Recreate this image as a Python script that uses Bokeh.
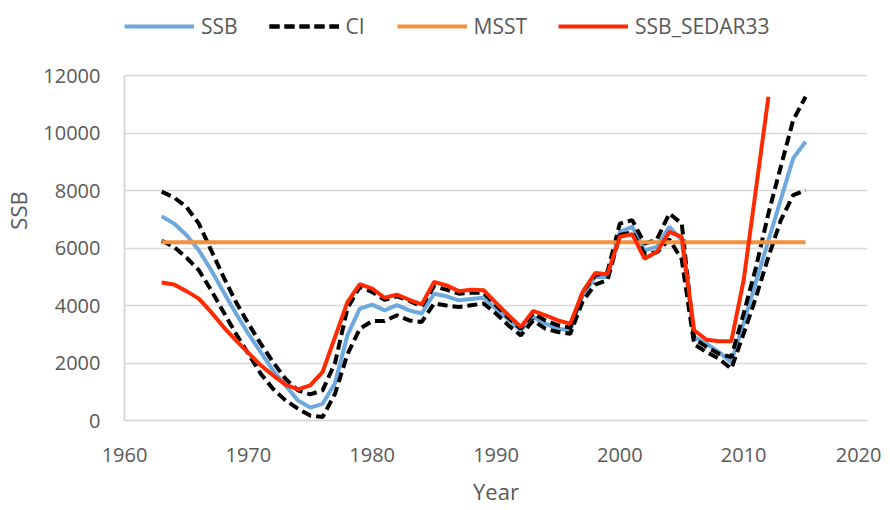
from bokeh.plotting import figure
from bokeh.models import Legend, LegendItem, Range1d, FixedTicker
from bokeh.embed import file_html
from bokeh.resources import INLINE

years = list(range(1963, 2016))
years_sedar = list(range(1963, 2013))

ssb = [7100, 6850, 6450, 5920, 5230, 4470, 3720, 3020, 2380, 1740,
       1220, 700, 450, 580, 1300, 2960, 3890, 4030, 3830, 4010,
       3830, 3720, 4410, 4320, 4180, 4230, 4270, 3890, 3510, 3140,
       3600, 3370, 3190, 3140, 4350, 4990, 4990, 6560, 6740, 5920,
       6040, 6740, 6270, 2900, 2670, 2380, 2030, 3400, 4830, 6260,
       7690, 9120, 9700]

ci_upper = [7960, 7760, 7430, 6850, 5920, 4990, 4120, 3370, 2670, 2030,
            1450, 1050, 910, 1050, 2000, 3900, 4650, 4470, 4200, 4320,
            4160, 3970, 4670, 4550, 4410, 4440, 4440, 4010, 3580, 3190,
            3720, 3480, 3310, 3230, 4470, 5050, 5170, 6850, 6970, 6150,
            6300, 7200, 6850, 2850, 2560, 2320, 2210, 3720, 5340, 7200,
            8830, 10450, 11260]

ci_lower = [6250, 6040, 5670, 5230, 4530, 3770, 3020, 2320, 1630, 1100,
            700, 410, 170, 120, 930, 2300, 3190, 3460, 3460, 3660,
            3480, 3430, 4070, 4000, 3950, 4010, 4070, 3720, 3310, 2960,
            3480, 3190, 3080, 3020, 4150, 4730, 4880, 6450, 6550, 5800,
            5850, 6300, 5600, 2650, 2380, 2150, 1800, 3020, 4300, 5690,
            6970, 7840, 8010]

msst_level = 6200
msst = [msst_level] * len(years)

ssb_sedar33 = [4800, 4730, 4500, 4240, 3770, 3250, 2790, 2350, 1920, 1570,
               1250, 1080, 1220, 1690, 2900, 4120, 4740, 4590, 4270, 4380,
               4200, 4040, 4820, 4700, 4500, 4550, 4530, 4090, 3660, 3250,
               3810, 3660, 3480, 3370, 4470, 5130, 5090, 6390, 6480, 5630,
               5870, 6560, 6390, 3140, 2810, 2760, 2760, 4880, 8070, 11260]

x_ticks = [1960, 1970, 1980, 1990, 2000, 2010, 2020]
y_ticks = [0, 2000, 4000, 6000, 8000, 10000, 12000]

FONT = "Open Sans"
TXT = "#595959"

# frame extends above 12000 so the legend can sit in the top strip
p = figure(frame_width=743, frame_height=420, output_backend="svg", toolbar_location=None,
           x_range=Range1d(1960, 2020), y_range=Range1d(0, 14609),
           min_border_left=117, min_border_right=14, min_border_top=0,
           min_border_bottom=0)
p.outline_line_color = None

r_ssb = p.line(years, ssb, line_color="#6DA9DC", line_width=4)
r_up = p.line(years, ci_upper, line_color="black", line_width=4, line_dash="10 5")
r_lo = p.line(years, ci_lower, line_color="black", line_width=4, line_dash="10 5")
r_msst = p.line(years, msst, line_color="#F4913F", line_width=4)
r_sedar = p.line(years_sedar, ssb_sedar33, line_color="#FF2A00", line_width=4)

p.xaxis.ticker = FixedTicker(ticks=x_ticks)
p.yaxis.ticker = FixedTicker(ticks=y_ticks)
p.yaxis.bounds = (0, 12000)
p.xgrid.grid_line_color = None
p.ygrid.grid_line_color = "#D9D9D9"
p.ygrid.grid_line_width = 1.5

for ax in (p.xaxis[0], p.yaxis[0]):
    ax.axis_line_color = "#D0D0D0"
    ax.axis_line_width = 1.5
    ax.major_tick_line_color = None
    ax.minor_tick_line_color = None
    ax.major_tick_out = 0
    ax.major_tick_in = 0
    ax.minor_tick_out = 0
    ax.minor_tick_in = 0
    ax.major_label_text_font = FONT
    ax.major_label_text_font_size = "20px"
    ax.major_label_text_color = TXT
    ax.axis_label_text_font = FONT
    ax.axis_label_text_font_size = "22px"
    ax.axis_label_text_font_style = "normal"
    ax.axis_label_text_color = TXT

p.xaxis.axis_label = "Year"
p.yaxis.axis_label = "SSB"
p.xaxis.major_label_standoff = 27
p.xaxis.axis_label_standoff = 11
p.yaxis.major_label_standoff = 24
p.yaxis.axis_label_standoff = 7

legend = Legend(items=[
    LegendItem(label="SSB", renderers=[r_ssb]),
    LegendItem(label="CI", renderers=[r_up, r_lo]),
    LegendItem(label="MSST", renderers=[r_msst]),
    LegendItem(label="SSB_SEDAR33", renderers=[r_sedar]),
], orientation="horizontal", location=(0, 380))
legend.border_line_color = None
legend.background_fill_alpha = 0
legend.padding = 0
legend.margin = 0
legend.spacing = 31
legend.glyph_width = 70
legend.glyph_height = 24
legend.label_standoff = 7
legend.label_text_font = FONT
legend.label_text_font_size = "21px"
legend.label_text_color = TXT
p.add_layout(legend, "center")

open("out.html", "w").write(file_html(p, INLINE))
